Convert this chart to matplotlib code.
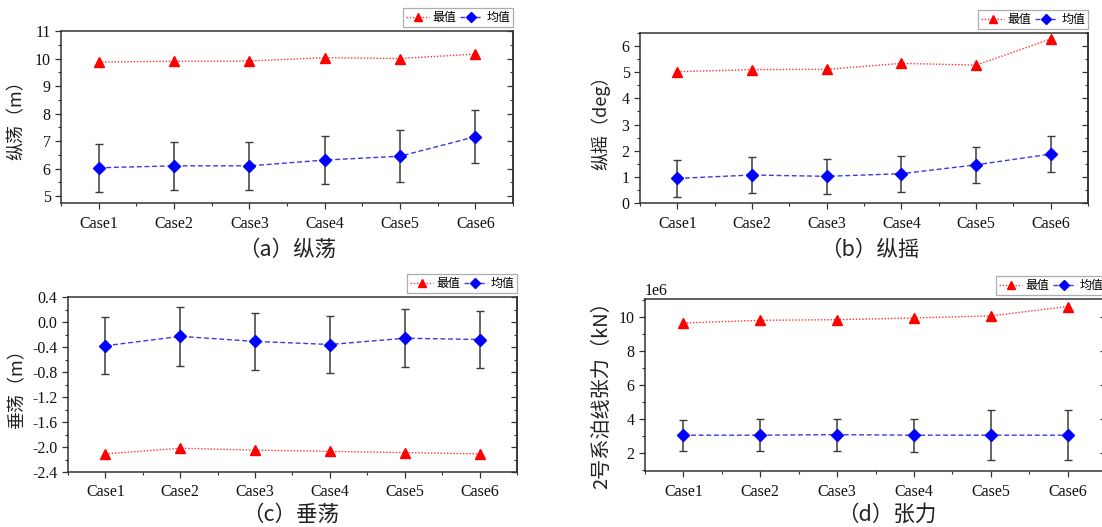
import matplotlib
matplotlib.use("Agg")
import matplotlib.pyplot as plt
from matplotlib.ticker import MultipleLocator, ScalarFormatter

plt.rcParams['font.family'] = ['Liberation Serif', 'Noto Sans CJK SC', 'DejaVu Sans']
plt.rcParams['axes.unicode_minus'] = False

cases = ['Case1', 'Case2', 'Case3', 'Case4', 'Case5', 'Case6']

# surge (m)
surge_max = [9.87, 9.90, 9.91, 10.03, 10.00, 10.16]
surge_mean = [6.03, 6.10, 6.10, 6.31, 6.45, 7.16]
surge_err = [0.88, 0.87, 0.88, 0.87, 0.95, 0.96]

# pitch (deg)
pitch_max = [5.02, 5.10, 5.11, 5.34, 5.27, 6.27]
pitch_mean = [0.94, 1.07, 1.02, 1.12, 1.46, 1.87]
pitch_err = [0.70, 0.69, 0.68, 0.69, 0.68, 0.68]

# heave (m)
heave_max = [-2.11, -2.02, -2.05, -2.07, -2.09, -2.11]
heave_mean = [-0.38, -0.23, -0.31, -0.36, -0.26, -0.28]
heave_err = [0.456, 0.467, 0.456, 0.456, 0.467, 0.456]

# mooring line #2 tension
tension_max = [9.64e6, 9.80e6, 9.84e6, 9.94e6, 10.06e6, 10.61e6]
tension_mean = [3.07e6, 3.07e6, 3.10e6, 3.07e6, 3.07e6, 3.07e6]
tension_err = [0.91e6, 0.92e6, 0.94e6, 0.97e6, 1.46e6, 1.47e6]

legend_labels = ['最值', '均值']

W, H = 1102, 527
fig = plt.figure(figsize=(W / 100, H / 100), dpi=100)


class MegaFormatter(ScalarFormatter):
    """Scalar formatter with the exponent pinned to 1e6."""

    def _set_order_of_magnitude(self):
        self.orderOfMagnitude = 6


def rect(l, r, t, b):
    return [l / W, 1 - b / H, (r - l) / W, (b - t) / H]


SPINE = '#333333'
ERR = '#3c3c3c'
TICK_SIZE = 11.5


def panel(box, vmax, vmean, verr, ylim, major, minor, ylabel, ylabel_xy,
          caption, caption_xy, ylabel_size=13):
    ax = fig.add_axes(rect(*box))
    x = list(range(1, len(cases) + 1))
    ax.errorbar(x, vmean, yerr=verr, fmt='none', ecolor=ERR, elinewidth=1.1,
                capsize=2.6, capthick=1.0, zorder=2)
    ax.plot(x, vmax, linestyle=(0, (1, 1.3)), color='#ff3030', lw=1.0,
            marker='^', markersize=7, markerfacecolor='#ff0000',
            markeredgecolor='#ff0000', label=legend_labels[0], zorder=3)
    ax.plot(x, vmean, linestyle=(0, (3.5, 2)), color='#3a3ae0', lw=1.0,
            marker='D', markersize=6.3, markerfacecolor='#0000ff',
            markeredgecolor='#0000ff', label=legend_labels[1], zorder=4)
    ax.set_xlim(0.5, 6.5)
    ax.set_ylim(*ylim)
    ax.set_xticks(x)
    ax.set_xticklabels(cases)
    ax.xaxis.set_minor_locator(MultipleLocator(0.5))
    ax.yaxis.set_major_locator(MultipleLocator(major))
    ax.yaxis.set_minor_locator(MultipleLocator(minor))
    for s in ax.spines.values():
        s.set_color(SPINE)
        s.set_linewidth(1.1)
    ax.tick_params(axis='both', which='major', direction='out', length=4,
                   width=0.9, color=SPINE, labelsize=TICK_SIZE,
                   labelcolor='#111111', right=False, top=False)
    ax.tick_params(axis='x', which='major', pad=5)
    ax.tick_params(axis='both', which='minor', direction='out', length=2.5,
                   width=0.8, color=SPINE, right=False, top=False)
    # inward ticks along the right spine
    sec = ax.secondary_yaxis('right')
    sec.yaxis.set_major_locator(MultipleLocator(major))
    sec.yaxis.set_minor_locator(MultipleLocator(minor))
    sec.tick_params(which='major', direction='in', length=4, width=0.9,
                    color=SPINE, labelright=False)
    sec.tick_params(which='minor', direction='in', length=2.5, width=0.8,
                    color=SPINE)
    sec.spines['right'].set_color(SPINE)
    sec.spines['right'].set_linewidth(1.1)

    leg = ax.legend(loc='lower right', bbox_to_anchor=(1.008, 1.0), ncol=2,
                    frameon=True, fancybox=False, borderaxespad=0.3,
                    prop={'family': ['Noto Sans CJK SC'], 'size': 8.6},
                    handlelength=1.9, handletextpad=0.3, columnspacing=0.3,
                    borderpad=0.25, numpoints=1, markerscale=0.85)
    leg.get_frame().set_edgecolor('#9a9a9a')
    leg.get_frame().set_linewidth(0.9)

    fig.text(ylabel_xy[0] / W, 1 - ylabel_xy[1] / H, ylabel, rotation=90,
             ha='center', va='center', fontsize=ylabel_size, color='#222222',
             family=['Noto Sans CJK SC', 'Liberation Serif'])
    fig.text(caption_xy[0] / W, 1 - caption_xy[1] / H, caption,
             ha='center', va='center', fontsize=15.5, color='#222222',
             family=['Noto Sans CJK SC', 'Liberation Serif'])
    return ax


panel((61, 513, 31, 203), surge_max, surge_mean, surge_err, (4.75, 11.0),
      1, 0.5, '纵荡（m）', (17, 116), '（a）纵荡', (287, 250))
panel((640, 1088, 33, 203), pitch_max, pitch_mean, pitch_err, (0, 6.5),
      1, 0.5, '纵摇（deg）', (601, 118), '（b）纵摇', (870, 250))
panel((68, 517, 297, 472), heave_max, heave_mean, heave_err, (-2.4, 0.4),
      0.4, 0.2, '垂荡（m）', (17, 385), '（c）垂荡', (291, 515))
ax_d = panel((645, 1106, 299, 471), tension_max, tension_mean, tension_err,
             (0.97e6, 11.05e6), 2e6, 1e6, '2号系泊线张力（kN）', (602, 390),
             '（d）张力', (887, 515), ylabel_size=14.5)
ax_d.yaxis.set_major_formatter(MegaFormatter())
ax_d.yaxis.get_offset_text().set_fontsize(TICK_SIZE)

fig.savefig('out.png', dpi=100, facecolor='white')
